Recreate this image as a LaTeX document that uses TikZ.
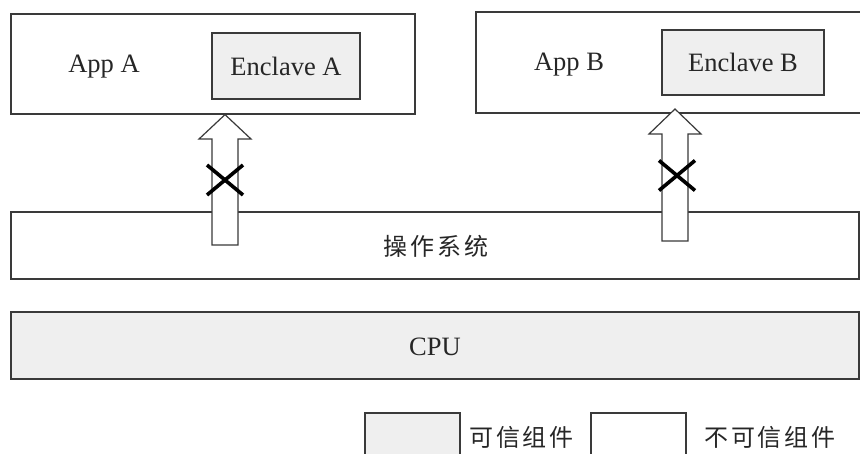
\documentclass[tikz,border=0pt]{standalone}
\usepackage{fontspec}
\setmainfont{Liberation Serif}
\newfontfamily\cjk[LetterSpace=12]{Noto Sans CJK SC}
\definecolor{edge}{HTML}{3A3A3A}
\definecolor{trusted}{HTML}{EFEFEF}
\tikzset{
  layer/.style={draw=edge, line width=1.2pt, fill=white, inner sep=0pt},
  trustedbox/.style={layer, fill=trusted},
  latin/.style={font=\fontsize{26.5}{30}\selectfont, text=black!85, inner sep=0pt},
  hanzi/.style={font=\fontsize{24}{28}\cjk, text=black!85, inner sep=0pt},
  blockarrow/.style={draw=edge, line width=1.2pt, fill=white, line join=miter},
  denied/.style={draw=black, line width=3.6pt}
}
\begin{document}
\begin{tikzpicture}[x=1pt, y=-1pt]
\clip (0,0) rectangle (860,453);
\fill[white] (0,0) rectangle (860,453);

% application A with its enclave
\node[layer, minimum width=404pt, minimum height=100pt] (appA) at (213,64) {};
\node[trustedbox, minimum width=148pt, minimum height=66pt] (encA) at (286,66) {};
\node[latin] (appAtext) at (104,67) {App A};
\node[latin] (encAtext) at (encA) {Enclave A};

% application B with its enclave (runs past the right edge)
\node[layer, minimum width=400pt, minimum height=101pt] (appB) at (676,62.5) {};
\node[trustedbox, minimum width=162pt, minimum height=65pt] (encB) at (743,62.5) {};
\node[latin] (appBtext) at (569,65) {App B};
\node[latin] (encBtext) at (encB) {Enclave B};

% operating system and CPU layers
\node[layer, minimum width=848pt, minimum height=67pt] (os) at (435,245.5) {};
\node[hanzi] (ostext) at (436,246) {操作系统};
\node[trustedbox, minimum width=848pt, minimum height=67pt] (cpu) at (435,345.5) {};
\node[latin] (cputext) at (435,347) {CPU};

% blocked access arrows from the OS towards the enclaves
\coordinate (tipA) at (appA.south -| 225,0);
\coordinate (tipB) at (appB.south -| 675,0);
\draw[blockarrow] (tipA) -- (251,139) -- (238,139) -- (238,245) -- (212,245)
  -- (212,139) -- (199,139) -- cycle;
\draw[blockarrow] (675,109) -- (701,134) -- (688,134) -- (688,241) -- (662,241)
  -- (662,134) -- (649,134) -- cycle;
\node[inner sep=0pt, minimum size=1pt] (crossA) at (225,180) {};
\node[inner sep=0pt, minimum size=1pt] (crossB) at (677,175.5) {};
\draw[denied] ([shift={(-18,-15)}]crossA.center) -- ([shift={(18,15)}]crossA.center)
  ([shift={(-18,15)}]crossA.center) -- ([shift={(18,-15)}]crossA.center);
\draw[denied] ([shift={(-18,-15)}]crossB.center) -- ([shift={(18,15)}]crossB.center)
  ([shift={(-18,15)}]crossB.center) -- ([shift={(18,-15)}]crossB.center);

% legend
\node[trustedbox, minimum width=95pt, minimum height=60pt] (keyT) at (412.5,443) {};
\node[hanzi, anchor=west] (keyTtext) at (469,437) {可信组件};
\node[layer, minimum width=95pt, minimum height=60pt] (keyU) at (638.5,443) {};
\node[hanzi, anchor=west] (keyUtext) at (704,437) {不可信组件};
\end{tikzpicture}
\end{document}
